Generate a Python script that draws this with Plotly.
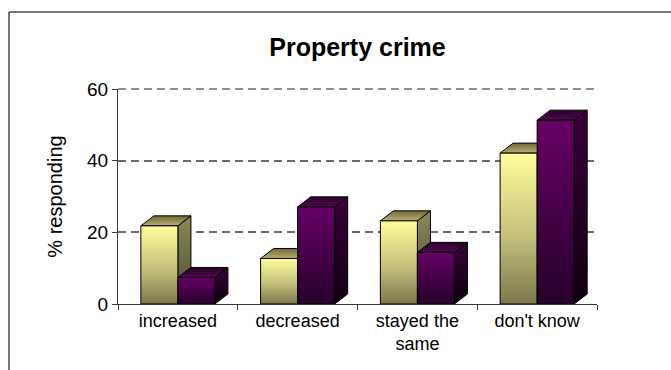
import plotly.graph_objects as go

# ---- data -------------------------------------------------------------
categories = ["increased", "decreased", "stayed the<br>same", "don't know"]
series_light = [21.8, 12.7, 23.2, 42.1]
series_dark = [7.4, 27.1, 14.4, 51.3]
y_ticks = [0, 20, 40, 60]

# ---- 3-D column geometry (axis units) ---------------------------------
BAR_W = 0.309      # front-face width, category units
DEPTH_X = 0.109    # horizontal offset of the back edge
DEPTH_Y = 2.8      # vertical offset of the back edge, y units

FONT = "Liberation Sans, Arial, sans-serif"

LIGHT = {
    "front": [[0, "#7c784c"], [0.45, "#c4c07c"], [1, "#ffff9c"]],
    "top": [[0, "#b8b070"], [1, "#706838"]],
    "side": [[0, "#4a4a2c"], [1, "#8a8a58"]],
}
DARK = {
    "front": [[0, "#26002a"], [1, "#660066"]],
    "top": [[0, "#4c0a4c"], [1, "#2c002c"]],
    "side": [[0, "#0e000e"], [1, "#3a003a"]],
}


def face(xs, ys, scale):
    return go.Scatter(
        x=xs + [xs[0]],
        y=ys + [ys[0]],
        mode="lines",
        fill="toself",
        fillgradient=dict(type="vertical", colorscale=scale),
        line=dict(color="#000000", width=1),
        hoverinfo="skip",
        showlegend=False,
    )


def column(x0, value, style):
    x1 = x0 + BAR_W
    side = face([x1, x1 + DEPTH_X, x1 + DEPTH_X, x1],
                [0, DEPTH_Y, value + DEPTH_Y, value], style["side"])
    top = face([x0, x1, x1 + DEPTH_X, x0 + DEPTH_X],
               [value, value, value + DEPTH_Y, value + DEPTH_Y], style["top"])
    front = face([x0, x1, x1, x0], [0, 0, value, value], style["front"])
    return [side, top, front]


fig = go.Figure()
for i, (a, b) in enumerate(zip(series_light, series_dark)):
    for tr in column(i - BAR_W, a, LIGHT):
        fig.add_trace(tr)
    for tr in column(i, b, DARK):
        fig.add_trace(tr)

axis_col = "#3a3a3a"
grid_col = "#6a6a6a"
grid_dash = "8px,5px"

fig.update_layout(
    width=671,
    height=370,
    margin=dict(l=118, r=74, t=89, b=66),
    paper_bgcolor="#ffffff",
    plot_bgcolor="#ffffff",
    font=dict(family=FONT, color="#000000"),
    title=dict(
        text="<b>Property crime</b>",
        font=dict(family=FONT, size=25, color="#000000"),
        x=0.5, xref="paper", xanchor="center",
        y=1 - 47 / 370, yref="container", yanchor="middle",
    ),
    xaxis=dict(
        range=[-0.5, 3.5],
        tickmode="array",
        tickvals=list(range(len(categories))),
        ticktext=categories,
        ticks="",
        tickfont=dict(family=FONT, size=18, color="#000000"),
        showgrid=False,
        zeroline=False,
        showline=True,
        linecolor=axis_col,
        linewidth=1.3,
        minor=dict(
            tickmode="array",
            tickvals=[k - 0.5 for k in range(len(categories) + 1)],
            ticks="outside",
            ticklen=5,
            tickwidth=1.3,
            tickcolor=axis_col,
            showgrid=False,
        ),
        fixedrange=True,
    ),
    yaxis=dict(
        range=[y_ticks[0], y_ticks[-1]],
        tickmode="array",
        tickvals=y_ticks,
        ticks="outside",
        ticklen=5,
        tickwidth=1.3,
        tickcolor=axis_col,
        tickfont=dict(family=FONT, size=19, color="#000000"),
        showgrid=True,
        gridcolor=grid_col,
        gridwidth=1.7,
        griddash=grid_dash,
        zeroline=False,
        showline=True,
        linecolor=axis_col,
        linewidth=1.3,
        title=dict(text="% responding", standoff=18,
                   font=dict(family=FONT, size=20, color="#000000")),
        fixedrange=True,
    ),
    shapes=[
        # gridline along the top edge of the plotting area (not clipped)
        dict(type="line", xref="paper", yref="paper", layer="below",
             x0=0, x1=1, y0=1, y1=1,
             line=dict(color=grid_col, width=1.7, dash=grid_dash)),
        # chart-area frame (top and left edges)
        dict(type="line", xref="paper", yref="paper",
             x0=(9 - 118) / 479, x1=(671 - 118) / 479 + 0.01,
             y0=1 + (89 - 12) / 215, y1=1 + (89 - 12) / 215,
             line=dict(color="#4a4a4a", width=1.5)),
        dict(type="line", xref="paper", yref="paper",
             x0=(9 - 118) / 479, x1=(9 - 118) / 479,
             y0=1 + (89 - 12) / 215, y1=-(370 - 304) / 215 - 0.01,
             line=dict(color="#4a4a4a", width=1.5)),
    ],
)

fig.write_html("out.html")
